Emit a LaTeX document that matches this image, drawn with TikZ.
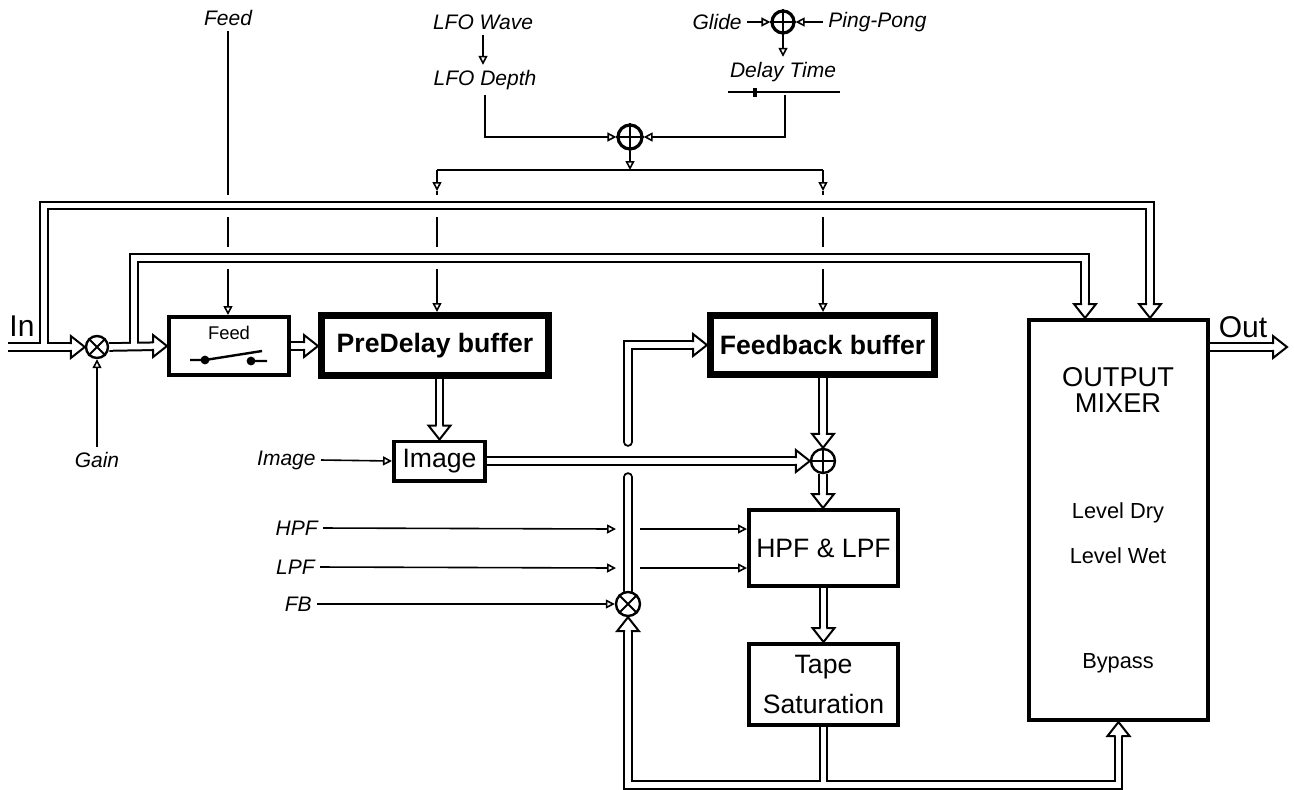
\documentclass[tikz,border=0pt]{standalone}
\usepackage{fontspec}
\setmainfont{Liberation Sans}
\usetikzlibrary{arrows.meta, backgrounds}
\tikzstyle{blk} = [draw, fill=white, line width=1.8pt, inner sep=0pt, align=center, font=\fontsize{13.3}{20}\selectfont]
\tikzstyle{bigblk} = [blk, line width=3.5pt, font=\fontsize{13.3}{16}\selectfont\bfseries]
\tikzstyle{sumnode} = [circle, draw, fill=white, line width=1.2pt, inner sep=0pt, minimum size=12pt]
\tikzstyle{lbl} = [font=\fontsize{10.5}{12}\selectfont\itshape, inner sep=2.5pt]
\tikzstyle{line} = [draw, line width=0.8pt]
\tikzstyle{ctl} = [line, -{Triangle[open, length=4.5pt, width=4.5pt]}]
\tikzstyle{halo} = [draw=white, line width=11pt]
\tikzset{thead/.pic = {\filldraw[fill=white, line width=1pt] (-14,2.9) -- (-14,11) -- (0,0) -- (-14,-11) -- (-14,-2.9);}}

\begin{document}
\begin{tikzpicture}[x=0.5pt, y=-0.5pt]
	\useasboundingbox (0,0) rectangle (1294,789);

	% blocks
	\node [blk, minimum width=60.2pt, minimum height=29.2pt] (feedbox) at (229,346) {};
	\node [bigblk, minimum width=113.5pt, minimum height=30pt] (predelay) at (435,345.5) {PreDelay buffer};
	\node [blk, minimum width=45.7pt, minimum height=19.7pt] (image) at (439.5,461) {Image};
	\node [bigblk, minimum width=112pt, minimum height=29.5pt] (feedback) at (822.5,345) {Feedback buffer};
	\node [blk, minimum width=74.7pt, minimum height=38.2pt] (hpf) at (823.5,548) {HPF \& LPF};
	\node [blk, minimum width=74.7pt, minimum height=40.7pt] (tape) at (823.5,684.5) {Tape\\Saturation};
	\node [blk, minimum width=89.7pt, minimum height=200.2pt] (mixer) at (1118.5,520) {};

	% sums and products
	\node [sumnode, minimum size=11pt] (mulin) at (97,347) {};
	\node [sumnode] (mulfb) at (628,604) {};
	\node [sumnode] (addfb) at (823,461) {};
	\node [sumnode, line width=1.6pt] (addmod) at (630,137) {};
	\node [sumnode, minimum size=11pt, line width=1.6pt] (addtime) at (783,22) {};
	\foreach \s in {addfb, addmod, addtime}
		\draw [line width=1pt] (\s.north) -- (\s.south) (\s.west) -- (\s.east);
	\foreach \s in {mulin, mulfb}
		\draw [line width=1pt] (\s.north west) -- (\s.south east) (\s.north east) -- (\s.south west);

	% feed switch
	\node [font=\fontsize{9.2}{10}\selectfont] (feedtxt) at (229,333) {Feed};
	\draw [line width=1.2pt] (190,360) -- (205,360) -- (262,351) (251,361) -- (267,361);
	\fill (205,360) circle [radius=2.2pt] (251,361) circle [radius=2.2pt];

	% delay time slider
	\coordinate (slidertap) at (785,95);
	\draw [line width=1.2pt] (728,92) -- (840,92);
	\fill (753,87.5) rectangle (757,96.5);

	% labels
	\node [lbl] (feedlbl) at (228,18) {Feed};
	\node [lbl] (wave) at (483,22) {LFO Wave};
	\node [lbl] (depth) at (485,80) {LFO Depth};
	\node [lbl, anchor=east] (glide) at (747,22) {Glide};
	\node [lbl, anchor=west] (pingpong) at (823,22) {Ping-Pong};
	\node [lbl] (dtime) at (783,72) {Delay Time};
	\node [lbl] (gain) at (97,460) {Gain};
	\node [lbl, anchor=east] (imglbl) at (321,460) {Image};
	\node [lbl, anchor=east] (hpflbl) at (323,528) {HPF};
	\node [lbl, anchor=east] (lpflbl) at (320,567) {LPF};
	\node [lbl, anchor=east] (fblbl) at (317,604) {FB};
	\node [font=\fontsize{15}{15}\selectfont, inner sep=0pt] (inlbl) at (22,326) {In};
	\node [font=\fontsize{15}{15}\selectfont, inner sep=0pt] (outlbl) at (1243,327) {Out};
	\node [font=\fontsize{13.6}{13}\selectfont, align=center] (mixtitle) at (1118,390) {OUTPUT\\MIXER};
	\node [font=\fontsize{10.9}{12}\selectfont] (dry) at (1118,513) {Level Dry};
	\node [font=\fontsize{10.9}{12}\selectfont] (wet) at (1118,556) {Level Wet};
	\node [font=\fontsize{10.9}{12}\selectfont] (bypass) at (1118,663) {Bypass};

	% tube points
	\coordinate (inpt) at (8,347);
	\coordinate (j1) at (44,347);
	\coordinate (j2) at (134,347);
	\coordinate (outerTop) at (1150,205.5);
	\coordinate (innerTop) at (1085,258);
	\coordinate (botM) at (823.5,785);
	\coordinate (fbLow) at (628,477);
	\coordinate (fbHigh) at (628,442);
	\coordinate (outpt) at (1287,347);

	% control points
	\coordinate (busL) at (437,170);
	\coordinate (busR) at (823,170);
	\coordinate (busM) at (630,170);
	\coordinate (tipL) at (437,191);
	\coordinate (tipR) at (823,191);
	\coordinate (hpfL) at (616,529);
	\coordinate (hpfR) at (640,529);
	\coordinate (lpfL) at (616,568);
	\coordinate (lpfR) at (640,568);

	\begin{scope}[on background layer]
		% control lines
		\path [ctl] (feedlbl.south) -- (feedlbl.south |- feedbox.north);
		\path [ctl] (wave.south) -- (wave.south |- depth.north);
		\path [ctl] (depth.south) |- (addmod.west);
		\path [ctl] (slidertap) |- (addmod.east);
		\path [ctl] (glide.east) -- (addtime.west);
		\path [ctl] (pingpong.west) -- (addtime.east);
		\path [ctl] (addtime.south) -- (addtime.south |- dtime.north);
		\path [ctl] (addmod.south) -- (busM);
		\path [line] (busL) -- (busR);
		\path [ctl] (busL) -- (tipL);
		\path [ctl] (busR) -- (tipR);
		\path [ctl] (tipL) -- (tipL |- predelay.north);
		\path [ctl] (tipR) -- (tipR |- feedback.north);
		\path [ctl] (gain.north) -- (mulin.south);
		\path [ctl] (imglbl.east) -- (image.west);
		\path [ctl] (hpflbl.east) -- (hpfL);
		\path [ctl] (hpfR) -- (hpfR -| hpf.west);
		\path [ctl] (lpflbl.east) -- (lpfL);
		\path [ctl] (lpfR) -- (lpfR -| hpf.west);
		\path [ctl] (fblbl.east) -- (mulfb.west);

		% gaps where the loops cross
		\path [halo] (j1 |- outerTop) -- (outerTop);
		\path [halo] (j2 |- innerTop) -- (innerTop);

		% signal tubes: black pass, then white pass
		\foreach \tw/\tc in {4.8pt/black, 2.8pt/white} {
			\tikzset{tb/.style={draw=\tc, line width=\tw}}
			\path [tb, shorten >=7pt] (inpt) -- (mulin.west);
			\path [tb, shorten >=7pt] (j1) |- (outerTop) -- (outerTop |- mixer.north);
			\path [tb, shorten >=7pt] (j2) |- (innerTop) -- (innerTop |- mixer.north);
			\path [tb, shorten >=7pt] (mulin.east) -- (feedbox.west);
			\path [tb, shorten >=7pt] (feedbox.east) -- (feedbox.east -| predelay.west);
			\path [tb, shorten >=7pt] (image.north |- predelay.south) -- (image.north);
			\path [tb, shorten >=7pt] (image.east) -- (addfb.west);
			\path [tb, shorten >=7pt] (addfb.north |- feedback.south) -- (addfb.north);
			\path [tb, shorten >=7pt] (addfb.south) -- (addfb.south |- hpf.north);
			\path [tb, shorten >=7pt] (hpf.south) -- (tape.north);
			\path [tb, shorten >=7pt] (tape.south) -- (botM) -| (mulfb.south);
			\path [tb, shorten >=7pt] (botM) -| (mixer.south);
			\path [tb, line cap=round] (mulfb.north) -- (fbLow);
			\path [tb, line cap=round, shorten >=7pt] (fbHigh) |- (feedback.west);
			\path [tb, shorten >=7pt] (outpt -| mixer.east) -- (outpt);
		}

		% tube heads
		\path (mulin.west) pic {thead};
		\path (feedbox.west) pic {thead};
		\path (feedbox.east -| predelay.west) pic {thead};
		\path (image.north) pic [rotate=-90] {thead};
		\path (addfb.west) pic {thead};
		\path (addfb.north) pic [rotate=-90] {thead};
		\path (addfb.south |- hpf.north) pic [rotate=-90] {thead};
		\path (tape.north) pic [rotate=-90] {thead};
		\path (mulfb.south) pic [rotate=90] {thead};
		\path (mixer.south) pic [rotate=90] {thead};
		\path (feedback.west) pic {thead};
		\path (outerTop |- mixer.north) pic [rotate=-90] {thead};
		\path (innerTop |- mixer.north) pic [rotate=-90] {thead};
		\path (outpt) pic {thead};
	\end{scope}
\end{tikzpicture}
\end{document}
